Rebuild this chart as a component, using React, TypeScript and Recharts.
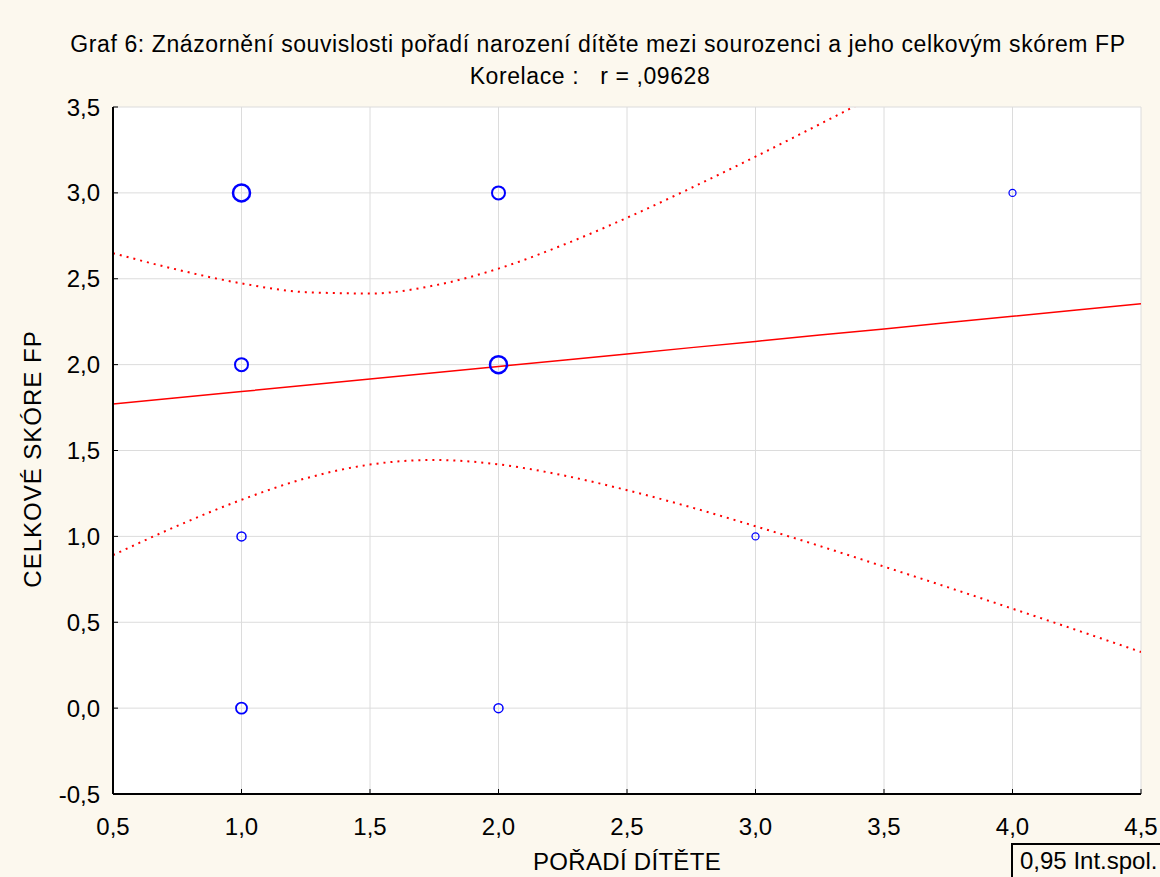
import { ComposedChart, Line, Scatter, XAxis, YAxis, CartesianGrid } from 'recharts';

// observed points: birth order vs. total FP score, n = how many children share the point
const pointX = [1, 2, 4, 1, 2, 1, 3, 1, 2];
const pointY = [3, 3, 3, 2, 2, 1, 1, 0, 0];
const pointN = [6, 4, 1, 4, 6, 2, 1, 3, 2];

// regression line and 0.95 confidence band
const bandX = [0.5, 0.75, 1, 1.25, 1.5, 1.75, 2, 2.25, 2.5, 2.75, 3, 3.25, 3.5, 3.75, 4, 4.25, 4.5];
const fitY = [1.77, 1.807, 1.843, 1.88, 1.916, 1.953, 1.989, 2.026, 2.062, 2.099, 2.135, 2.172, 2.208, 2.245, 2.281, 2.318, 2.354];
const upperY = [2.649, 2.553, 2.473, 2.422, 2.414, 2.461, 2.559, 2.696, 2.855, 3.029, 3.211, 3.4, 3.592, 3.787, 3.983, 4.182, 4.381];
const lowerY = [0.891, 1.061, 1.213, 1.338, 1.418, 1.445, 1.419, 1.356, 1.269, 1.169, 1.059, 0.944, 0.824, 0.703, 0.579, 0.454, 0.327];

const xTicks = [0.5, 1, 1.5, 2, 2.5, 3, 3.5, 4, 4.5];
const yTicks = [-0.5, 0, 0.5, 1, 1.5, 2, 2.5, 3, 3.5];

const bandData = bandX.map((x, i) => ({ x, fit: fitY[i], upper: upperY[i], lower: lowerY[i] }));
const points = pointX.map((x, i) => ({ x, y: pointY[i], n: pointN[i] }));

const FONT = '"Liberation Sans", Arial, sans-serif';
const BG = '#fcf8ee';
const comma = (v: number) => v.toFixed(1).replace('.', ',');

function Ring(props: any) {
    const { cx, cy, payload } = props;
    if (cx == null || cy == null) return null;
    const n = payload.n;
    return <circle cx={cx} cy={cy} r={2.5 + n} fill="none" stroke="#0000ff" strokeWidth={1 + n * 0.25} />;
}

const tickStyle = { fontSize: 24, fill: '#000', fontFamily: FONT };

export default function App() {
    return (
        <div style={{ position: 'absolute', left: 0, top: 0, width: 1160, height: 877, background: BG, fontFamily: FONT, color: '#000' }}>
            <div style={{ position: 'absolute', top: 32, left: 0, width: 1160, textAlign: 'center', fontSize: 23, letterSpacing: 0.6, lineHeight: '24px', paddingLeft: 36, boxSizing: 'border-box', whiteSpace: 'nowrap' }}>
                Graf 6: Znázornění souvislosti pořadí narození dítěte mezi sourozenci a jeho celkovým skórem FP
            </div>
            <div style={{ position: 'absolute', top: 64, left: 0, width: 1160, textAlign: 'center', fontSize: 23, letterSpacing: 0.6, lineHeight: '24px', whiteSpace: 'pre', paddingLeft: 20, boxSizing: 'border-box' }}>
                {'Korelace :   r = ,09628'}
            </div>

            <ComposedChart width={1160} height={877} data={bandData} margin={{ top: 107, right: 19, bottom: 53, left: 0 }}>
                <CartesianGrid stroke="#dcdcdc" fill="#ffffff" strokeWidth={1} />
                <XAxis
                    dataKey="x"
                    type="number"
                    domain={[0.5, 4.5]}
                    ticks={xTicks}
                    tickFormatter={comma}
                    height={30}
                    tick={tickStyle}
                    tickSize={-5}
                    tickMargin={29}
                    axisLine={{ stroke: '#000', strokeWidth: 2 }}
                    tickLine={{ stroke: '#000' }}
                    allowDataOverflow
                />
                <XAxis
                    xAxisId="top"
                    orientation="top"
                    dataKey="x"
                    type="number"
                    domain={[0.5, 4.5]}
                    ticks={xTicks}
                    tickFormatter={() => ''}
                    height={0}
                    tickSize={-5}
                    axisLine={{ stroke: '#000', strokeWidth: 2 }}
                    tickLine={{ stroke: '#000' }}
                    allowDataOverflow
                />
                <YAxis
                    type="number"
                    domain={[-0.5, 3.5]}
                    ticks={yTicks}
                    tickFormatter={comma}
                    width={113}
                    tick={tickStyle}
                    tickSize={-5}
                    tickMargin={18}
                    axisLine={{ stroke: '#000', strokeWidth: 2 }}
                    tickLine={{ stroke: '#000' }}
                    allowDataOverflow
                />
                <YAxis
                    yAxisId="right"
                    orientation="right"
                    type="number"
                    domain={[-0.5, 3.5]}
                    ticks={yTicks}
                    tickFormatter={() => ''}
                    width={0}
                    tickSize={-5}
                    axisLine={{ stroke: '#000', strokeWidth: 2 }}
                    tickLine={{ stroke: '#000' }}
                    allowDataOverflow
                />
                <Line dataKey="upper" type="monotone" stroke="#ff0000" strokeWidth={2} strokeDasharray="2 5" dot={false} activeDot={false} isAnimationActive={false} />
                <Line dataKey="lower" type="monotone" stroke="#ff0000" strokeWidth={2} strokeDasharray="2 5" dot={false} activeDot={false} isAnimationActive={false} />
                <Line dataKey="fit" type="linear" stroke="#ff0000" strokeWidth={1.5} dot={false} activeDot={false} isAnimationActive={false} />
                <Scatter data={points} dataKey="y" shape={<Ring />} isAnimationActive={false} />
            </ComposedChart>

            <div style={{ position: 'absolute', left: 0, top: 447, width: 66, height: 24, fontSize: 24, lineHeight: '24px', textAlign: 'center', whiteSpace: 'nowrap', display: 'flex', justifyContent: 'center' }}>
                <span style={{ transform: 'rotate(-90deg)', display: 'inline-block', letterSpacing: 1 }}>CELKOVÉ SKÓRE FP</span>
            </div>
            <div style={{ position: 'absolute', left: 427, top: 849, width: 400, fontSize: 24, lineHeight: '26px', textAlign: 'center', letterSpacing: 0.3 }}>
                POŘADÍ DÍTĚTE
            </div>
            <div style={{ position: 'absolute', left: 1011, top: 843, width: 160, height: 40, border: '2px solid #000', boxSizing: 'border-box', fontSize: 24, lineHeight: '32px', paddingLeft: 7, whiteSpace: 'nowrap' }}>
                0,95 Int.spol.
            </div>
        </div>
    );
}
